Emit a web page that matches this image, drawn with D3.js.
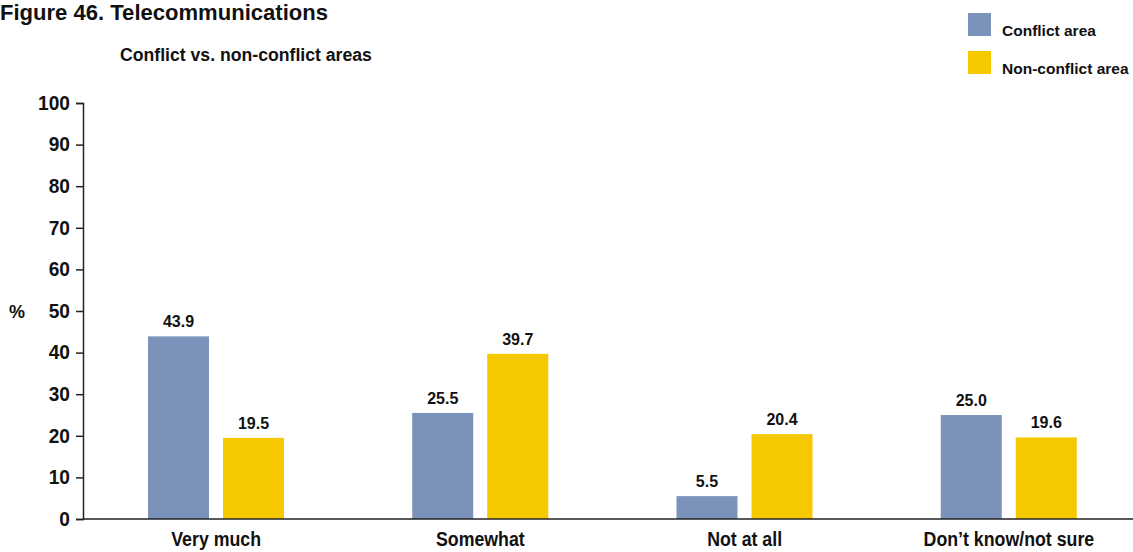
<!DOCTYPE html>
<html><head><meta charset="utf-8">
<script src="https://cdn.jsdelivr.net/npm/d3@7"></script>
<style>
body{margin:0;background:#fff;}
text{font-family:"Liberation Sans",Arial,Helvetica,sans-serif;font-weight:bold;fill:#111;}
</style></head><body>
<svg id="c" width="1133" height="552"></svg>
<script>
const categories = ["Very much","Somewhat","Not at all","Don\u2019t know/not sure"];
const seriesNames = ["Conflict area","Non-conflict area"];
const conflict = [43.9, 25.5, 5.5, 25.0];
const nonConflict = [19.5, 39.7, 20.4, 19.6];
const yTicks = [0,10,20,30,40,50,60,70,80,90,100];
const colors = ["#7b93bb","#f5c800"];

const svg = d3.select("#c");
const x = d3.scaleBand().domain(categories).range([84, 1141]).padding(0);
const y = d3.scaleLinear().domain([0,100]).range([519,103]);
const sub = d3.scaleBand().domain(seriesNames).range([64, 200]).paddingInner(0.187);

function condense(sel, f){
  sel.each(function(){
    const w = this.getComputedTextLength();
    d3.select(this).attr("textLength", w*f).attr("lengthAdjust","spacingAndGlyphs");
  });
}

svg.append("text").attr("x",0).attr("y",20).attr("font-size",22.5).text("Figure 46. Telecommunications")
  .call(condense, 0.98);
svg.append("text").attr("x",120).attr("y",61).attr("font-size",18).text("Conflict vs. non-conflict areas")
  .call(condense, 0.98);

// y axis
const ya = svg.append("g").attr("transform","translate(83,0)")
  .call(d3.axisLeft(y).tickValues(yTicks).tickSize(7).tickPadding(6));
ya.select(".domain").attr("stroke","#222").attr("stroke-width",1.5);
ya.selectAll(".tick line").attr("stroke","#222").attr("stroke-width",1.5);
ya.selectAll(".tick text").attr("font-size",19.5).attr("font-family",null).style("fill","#111")
  .call(condense, 0.98);
svg.append("text").attr("x",9).attr("y",318).attr("font-size",18).text("%");

// bars
const data = categories.map((c,i)=>({cat:c, vals:[conflict[i], nonConflict[i]]}));
const g = svg.append("g");
data.forEach(d=>{
  d.vals.forEach((v,j)=>{
    const bx = x(d.cat)+sub(seriesNames[j]);
    g.append("rect").attr("x",bx).attr("y",y(v)).attr("width",sub.bandwidth())
      .attr("height",y(0)-y(v)).attr("fill",colors[j]);
    g.append("text").attr("x",bx+sub.bandwidth()/2).attr("y",y(v)-9)
      .attr("text-anchor","middle").attr("font-size",16).text(v.toFixed(1));
  });
});

// x axis
const xa = svg.append("g").attr("transform","translate(0,519)")
  .call(d3.axisBottom(x).tickSize(0).tickPadding(0));
xa.select(".domain").attr("d","M83,0H1133").attr("stroke","#222").attr("stroke-width",1.5);
xa.selectAll(".tick text").attr("font-size",19.5).attr("font-family",null).style("fill","#111")
  .attr("y",27).attr("dy",0).call(condense, 0.91);

// legend
seriesNames.forEach((s,i)=>{
  svg.append("rect").attr("x",968).attr("y",13+i*38).attr("width",23).attr("height",23).attr("fill",colors[i]);
  svg.append("text").attr("x",1002).attr("y",35.5+i*38).attr("font-size",15.5).text(s);
});
</script></body></html>
